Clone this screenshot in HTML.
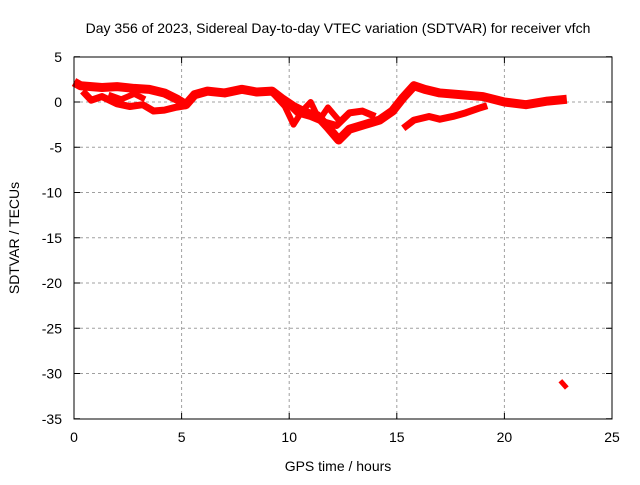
<!DOCTYPE html>
<html><head><meta charset="utf-8"><style>
body{margin:0;background:#fff}
svg text{font-family:"Liberation Sans",sans-serif;font-size:14px;fill:#000}
</style></head><body>
<svg width="640" height="480" id="c">
<text x="338" y="33" text-anchor="middle">Day 356 of 2023, Sidereal Day-to-day VTEC variation (SDTVAR) for receiver vfch</text>
<text x="338" y="471" text-anchor="middle">GPS time / hours</text>
<text transform="translate(19,238) rotate(-90)" text-anchor="middle">SDTVAR / TECUs</text>
<g id="grid"></g><g id="marks"></g>
<rect x="74" y="57" width="538" height="362" fill="none" stroke="#000"/>
</svg>
<script>
const xTicks=[0,5,10,15,20,25];
const yTicks=[5,0,-5,-10,-15,-20,-25,-30,-35];
const mainH=[0,0.3,0.8,1.3,2,2.8,3.5,4.2,4.8,5.2,5.6,6.2,7,7.8,8.5,9.2,9.7,10.2,10.8,11.3,11.8,12.3,12.8,13.5,14.2,14.8,15.3,15.8,16.3,17,18,19,20,21,22,22.9];
const mainV=[2.2,1.8,1.7,1.6,1.7,1.5,1.4,1.0,0.3,-0.3,0.8,1.2,1.0,1.4,1.1,1.2,0.3,-0.5,-1.2,-1.5,-2.8,-4.2,-3.0,-2.5,-2.0,-1.0,0.5,1.8,1.4,1.0,0.8,0.6,0.0,-0.3,0.1,0.3];
const lowH=[0.4,0.8,1.3,2,2.6,3.2,3.7,4.2,4.7,5.2];
const lowV=[1.2,0.2,0.6,-0.2,-0.5,-0.3,-1.0,-0.9,-0.6,-0.4];
const midH=[1.6,2.2,2.8,3.3];
const midV=[0.8,0.3,0.9,0.3];
const dipH=[9.8,10.4,11,11.6,12.2,12.8,13.4,14];
const dipV=[0.2,-1.2,-1.6,-2.2,-2.6,-1.2,-1.0,-1.6];
const noiseH=[9.3,9.8,10.2,10.6,11,11.4,11.8,12.3];
const noiseV=[0.8,-0.5,-2.5,-1.0,0.0,-2.0,-0.6,-2.0];
const retH=[15.3,15.8,16.5,17,17.6,18.2,18.8,19.2];
const retV=[-2.9,-2.0,-1.6,-1.9,-1.6,-1.2,-0.7,-0.4];
const outH=[22.6,22.9];
const outV=[-30.8,-31.6];
const X=h=>74+h*538/25, Y=v=>102-v*362/40;
const NS='http://www.w3.org/2000/svg';
const grid=document.getElementById('grid'), marks=document.getElementById('marks');
function mk(t,a,p){const e=document.createElementNS(NS,t);for(const k in a)e.setAttribute(k,a[k]);p.appendChild(e);return e;}
xTicks.forEach(t=>{
 if(t>0&&t<25){const l=mk('line',{x1:X(t),x2:X(t),y1:57,y2:419,stroke:'#a0a0a0','stroke-dasharray':'3,3'},grid);
 
 }
 mk('line',{x1:X(t),x2:X(t),y1:419,y2:413,stroke:'#000'},grid);
 mk('line',{x1:X(t),x2:X(t),y1:57,y2:63,stroke:'#000'},grid);
 const s=mk('text',{x:X(t),y:442,'text-anchor':'middle'},grid);s.textContent=t;
 
 
});
yTicks.forEach(t=>{
 if(t<5&&t>-35){const l=mk('line',{x1:74,x2:612,y1:Y(t),y2:Y(t),stroke:'#a0a0a0','stroke-dasharray':'3,3'},grid);
 
 }
 mk('line',{x1:74,x2:80,y1:Y(t),y2:Y(t),stroke:'#000'},grid);
 mk('line',{x1:612,x2:606,y1:Y(t),y2:Y(t),stroke:'#000'},grid);
 const s=mk('text',{x:62,y:Y(t)+5,'text-anchor':'end'},grid);s.textContent=t;
 
 
});
function series(H,V,name,w){
 const p=mk('polyline',{points:H.map((h,i)=>X(h)+','+Y(V[i])).join(' '),fill:'none',stroke:'#f00','stroke-width':w,'stroke-linejoin':'round'},marks);
 
 
}
series(mainH,mainV,'sdtvar-main-track',9);
series(lowH,lowV,'sdtvar-lower-track',7);
series(midH,midV,'sdtvar-mid-track',6);
series(dipH,dipV,'sdtvar-dip-track',7);
series(noiseH,noiseV,'sdtvar-noise-track',6);
series(retH,retV,'sdtvar-return-track',7);
series(outH,outV,'sdtvar-outlier',5);
</script>
</body></html>
